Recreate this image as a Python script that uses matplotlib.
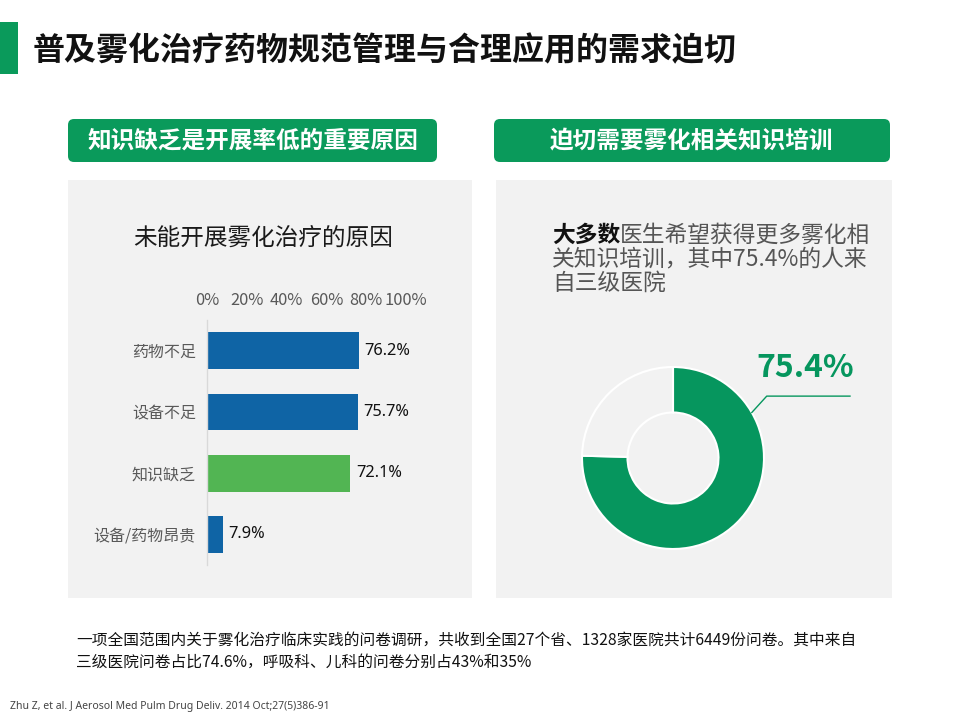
import numpy as np
import matplotlib
matplotlib.use("Agg")
import matplotlib.pyplot as plt
from matplotlib.patches import FancyBboxPatch, Rectangle

plt.rcParams['font.family'] = ['Noto Sans CJK SC', 'DejaVu Sans']

# ---- data ----
title = "普及雾化治疗药物规范管理与合理应用的需求迫切"
header_left = "知识缺乏是开展率低的重要原因"
header_right = "迫切需要雾化相关知识培训"
bar_title = "未能开展雾化治疗的原因"
categories = ["药物不足", "设备不足", "知识缺乏", "设备/药物昂贵"]
values = [76.2, 75.7, 72.1, 7.9]
highlight = [False, False, True, False]
xticks = [0, 20, 40, 60, 80, 100]
xtick_labels = ["0%", "20%", "40%", "60%", "80%", "100%"]
donut_values = [75.4, 24.6]
donut_label = "75.4%"
right_text_bold = "大多数"
right_text_lines = ["医生希望获得更多雾化相", "关知识培训，其中75.4%的人来", "自三级医院"]
note_lines = ["一项全国范围内关于雾化治疗临床实践的问卷调研，共收到全国27个省、1328家医院共计6449份问卷。其中来自",
              "三级医院问卷占比74.6%，呼吸科、儿科的问卷分别占43%和35%"]
citation = "Zhu Z, et al. J Aerosol Med Pulm Drug Deliv. 2014 Oct;27(5)386-91"

GREEN = "#0A9A5B"
DONUT_GREEN = "#06965E"
BLUE = "#0F64A5"
LGREEN = "#52B553"
PANEL = "#F2F2F2"
GRAY = "#595959"

W, H = 960, 720
fig = plt.figure(figsize=(9.6, 7.2), dpi=100)
fig.patch.set_facecolor("white")

# overlay axes in pixel coordinates
ax0 = fig.add_axes([0, 0, 1, 1])
ax0.set_xlim(0, W)
ax0.set_ylim(H, 0)
ax0.axis("off")
ax0.set_zorder(0)

# left accent bar + title
ax0.add_patch(Rectangle((0, 22), 18, 52, color=GREEN, lw=0))
ax0.text(33, 51, title, fontsize=23, fontweight="bold", color="#111111", va="center", ha="left")

# header boxes
for (x0, x1), txt in [((68, 437), header_left), ((494, 890), header_right)]:
    ax0.add_patch(FancyBboxPatch((x0, 119), x1 - x0, 43, boxstyle="round,pad=0,rounding_size=6",
                                 fc=GREEN, ec="none"))
    ax0.text((x0 + x1) / 2, 140.5, txt, fontsize=17, fontweight="bold", color="white",
             ha="center", va="center")

# panels
ax0.add_patch(Rectangle((68, 180), 404, 418, color=PANEL, lw=0))
ax0.add_patch(Rectangle((496, 180), 396, 418, color=PANEL, lw=0))

# bar chart subtitle
ax0.text(133, 238, bar_title, fontsize=17, color="#1A1A1A", ha="left", va="center")

# right panel text
t1 = ax0.text(552, 235, right_text_bold, fontsize=16.4, fontweight="bold", color="#111111",
              ha="left", va="center")
ax0.annotate(right_text_lines[0], xy=(1, 0.5), xycoords=t1, fontsize=16.4, color="#555555",
             ha="left", va="center")
ax0.text(552, 259, right_text_lines[1], fontsize=16.4, color="#555555", ha="left", va="center")
ax0.text(552, 283, right_text_lines[2], fontsize=16.4, color="#555555", ha="left", va="center")

# note + citation
ax0.text(76, 640, note_lines[0], fontsize=11.3, color="#111111", ha="left", va="center")
ax0.text(76, 662, note_lines[1], fontsize=11.3, color="#111111", ha="left", va="center")
ax0.text(10, 707, citation, fontsize=7.5, color="#444444", ha="left", va="center",
         family=["Liberation Sans Narrow", "Noto Sans", "DejaVu Sans"])

# ---- bar chart ----
def px_rect(x0, y0, x1, y1):
    return [x0 / W, 1 - y1 / H, (x1 - x0) / W, (y1 - y0) / H]

ax = fig.add_axes(px_rect(207, 320, 406, 565))
ax.set_zorder(1)
ax.patch.set_visible(False)
y = np.arange(len(categories))
colors = [LGREEN if h else BLUE for h in highlight]
bars = ax.barh(y, values, height=0.6, color=colors)
ax.set_xlim(0, 100)
ax.set_ylim(len(categories) - 0.5, -0.5)
ax.set_yticks(y)
ax.set_yticklabels(categories, fontsize=11.5, color=GRAY)
ax.set_xticks(xticks)
ax.set_xticklabels(xtick_labels, fontsize=11.8, color=GRAY)
ax.xaxis.tick_top()
ax.tick_params(axis="x", length=0, pad=8)
ax.tick_params(axis="y", length=0, pad=8)
for s in ["top", "right", "bottom"]:
    ax.spines[s].set_visible(False)
ax.spines["left"].set_color("#D9D9D9")
ax.spines["left"].set_linewidth(1.0)
ax.bar_label(bars, labels=[f"{v:.1f}%" for v in values], padding=4, fontsize=11.8,
             color="#111111", family=["Noto Sans", "DejaVu Sans"])

# ---- donut ----
R = 91  # px per data unit
cx, cy = 673, 458
lim = 1.1
axd = fig.add_axes(px_rect(cx - R * lim, cy - R * lim, cx + R * lim, cy + R * lim))
axd.set_zorder(1)
axd.patch.set_visible(False)
axd.pie(donut_values, colors=[DONUT_GREEN, PANEL], startangle=90, counterclock=False,
        radius=1.0, wedgeprops=dict(width=0.5, edgecolor="white", linewidth=1.5))
axd.set_xlim(-lim, lim)
axd.set_ylim(-lim, lim)
axd.set_aspect("equal")
axd.axis("off")

ang = np.deg2rad(30)
sx, sy = np.cos(ang), np.sin(ang)
axd.plot([sx, 1.03, 1.945], [sy, 0.68, 0.68], color=DONUT_GREEN, lw=1.0, clip_on=False)
axd.text(1.985, 0.99, donut_label, fontsize=23, fontweight="bold", color=DONUT_GREEN,
         ha="right", va="center", clip_on=False)

fig.savefig("out.png", dpi=100, facecolor="white")
